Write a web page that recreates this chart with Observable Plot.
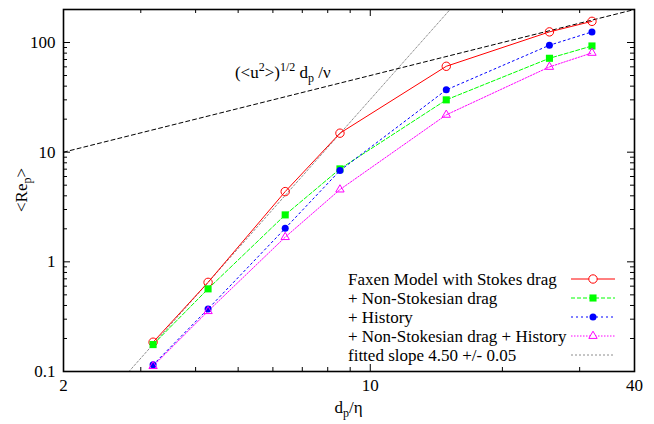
<!DOCTYPE html>
<html><head><meta charset="utf-8">
<script src="https://cdn.jsdelivr.net/npm/d3@7"></script>
<script src="https://cdn.jsdelivr.net/npm/@observablehq/plot@0.6"></script>
<style>body{margin:0;background:#fff} svg{display:block}</style>
</head><body><div id="chart"></div>
<script>
// ---- data ----
const dpEta = [3.2, 4.27, 6.4, 8.53, 14.9, 25.6, 32];
const faxenStokes = [0.185, 0.65, 4.37, 14.9, 60.7, 125, 156];
const nonStokesian = [0.176, 0.567, 2.68, 7.04, 30, 71.8, 93];
const history = [0.115, 0.372, 2.02, 6.8, 37, 94.4, 125];
const nonStokesianHistory = [0.112, 0.355, 1.68, 4.56, 21.9, 59.9, 80.4];
const seriesNames = ["Faxen Model with Stokes drag", "+ Non-Stokesian drag", "+ History", "+ Non-Stokesian drag + History"];
const fitName = "fitted slope 4.50 +/- 0.05";
const velLineX = [2, 40];
const velLineY = [10, 200];
const fitLineX = [2.82, 15.2];
const fitLineY = [0.1, 200];
const annotationX = [4.93];
const annotationY = [47];
const xTickLabels = [2, 10, 40];
const yTickLabels = [0.1, 1, 10, 100];
const xMinorTicks = [3, 4, 5, 6, 7, 8, 9, 20, 30];
const xMajorTicks = [10];
const yMinorTicks = [0.2, 0.3, 0.4, 0.5, 0.6, 0.7, 0.8, 0.9, 2, 3, 4, 5, 6, 7, 8, 9, 20, 30, 40, 50, 60, 70, 80, 90];
const yMajorTicks = [1, 10, 100];

// ---- styles ----
const FONT = "'Liberation Serif', 'Times New Roman', serif";
const FS = 17;
const seriesStyles = [
  {color: "#ff0000", dash: null, symbol: "circle", filled: false, r: 4.2},
  {color: "#00ff00", dash: "4,2", symbol: "square", filled: true, r: 4.0},
  {color: "#0000ff", dash: "2,3", symbol: "circle", filled: true, r: 3.5},
  {color: "#ff00ff", dash: "1.5,1.5", symbol: "triangle", filled: false, r: 3.1}
];
const fitStyle = {color: "#8c8c8c", dash: "2,2"};

const W = 654, H = 424, mL = 63, mR = 20, mT = 9, mB = 53;
const iw = W - mL - mR, ih = H - mT - mB;

const allSeries = [faxenStokes, nonStokesian, history, nonStokesianHistory];
const seriesRows = allSeries.map((s, k) => dpEta.map((x, j) => ({x, y: s[j], k})));
const velPts = velLineX.map((x, i) => ({x, y: velLineY[i]}));
const fitPts = fitLineX.map((x, i) => ({x, y: fitLineY[i]}));

const marks = [
  Plot.line(fitPts, {x: "x", y: "y", stroke: fitStyle.color, strokeWidth: 1, strokeDasharray: fitStyle.dash, clip: true}),
  Plot.line(velPts, {x: "x", y: "y", stroke: "black", strokeWidth: 1, strokeDasharray: "4,3", clip: true})
];
seriesRows.forEach((rows, k) => {
  const st = seriesStyles[k];
  marks.push(Plot.line(rows, {x: "x", y: "y", stroke: st.color, strokeWidth: 1, strokeDasharray: st.dash || undefined}));
});
seriesRows.forEach((rows, k) => {
  const st = seriesStyles[k];
  marks.push(Plot.dot(rows, {x: "x", y: "y", symbol: st.symbol, r: st.r,
    fill: st.filled ? st.color : "none", stroke: st.filled ? "none" : st.color, strokeWidth: 1}));
});
// inward ticks
marks.push(
  Plot.ruleX(xMinorTicks, {x: d => d, insetTop: ih - 4, stroke: "black", strokeWidth: 1}),
  Plot.ruleX(xMinorTicks, {x: d => d, insetBottom: ih - 4, stroke: "black", strokeWidth: 1}),
  Plot.ruleX(xMajorTicks, {x: d => d, insetTop: ih - 7, stroke: "black", strokeWidth: 1}),
  Plot.ruleX(xMajorTicks, {x: d => d, insetBottom: ih - 7, stroke: "black", strokeWidth: 1}),
  Plot.ruleY(yMinorTicks, {y: d => d, insetRight: iw - 4, stroke: "black", strokeWidth: 1}),
  Plot.ruleY(yMinorTicks, {y: d => d, insetLeft: iw - 4, stroke: "black", strokeWidth: 1}),
  Plot.ruleY(yMajorTicks, {y: d => d, insetRight: iw - 7, stroke: "black", strokeWidth: 1}),
  Plot.ruleY(yMajorTicks, {y: d => d, insetLeft: iw - 7, stroke: "black", strokeWidth: 1}),
  Plot.frame({stroke: "black", strokeWidth: 1.6}),
  Plot.axisX({ticks: xTickLabels, tickSize: 0, tickPadding: 7, tickFormat: d => String(d), label: null}),
  Plot.axisY({ticks: yTickLabels, tickSize: 0, tickPadding: 8, tickFormat: d => String(d), label: null})
);

const plot = Plot.plot({
  width: W, height: H,
  marginLeft: mL, marginRight: mR, marginTop: mT, marginBottom: mB,
  style: {fontFamily: FONT, fontSize: FS + "px", color: "black", background: "white"},
  x: {type: "log", domain: [2, 40]},
  y: {type: "log", domain: [0.1, 200]},
  marks
});
document.getElementById("chart").appendChild(plot);

// ---- texts with sub/superscripts, legend ----
const svg = d3.select(plot);
const xs = plot.scale("x"), ys = plot.scale("y");
const g = svg.append("g").attr("font-family", FONT).attr("font-size", FS).attr("fill", "black").attr("text-anchor", "start");

function rich(parent, parts) {
  let cur = 0;
  parts.forEach(([t, shift, small]) => {
    const ts = parent.append("tspan").text(t);
    const d = shift - cur;
    if (d !== 0) ts.attr("dy", d);
    if (small) ts.attr("font-size", 12);
    cur = shift;
  });
}
// annotation
const ann = g.append("text").attr("text-anchor", "start").attr("x", xs.apply(annotationX[0])).attr("y", ys.apply(annotationY[0]));
rich(ann, [["(<u", 0], ["2", -7, true], [">)", 0], ["1/2", -7, true], [" d", 0], ["p", 4, true], [" /ν", 0]]);
// x label
const xl = g.append("text").attr("x", mL + iw / 2).attr("y", H - 11).attr("text-anchor", "middle");
rich(xl, [["d", 0], ["p", 4, true], ["/η", 0]]);
// y label
const yl = g.append("text").attr("transform", `translate(27,${mT + ih / 2}) rotate(-90)`).attr("text-anchor", "middle");
rich(yl, [["<Re", 0], ["p", 4, true], [">", 0]]);

// legend
const right = W - mR, bottom = H - mB;
const entries = seriesNames.map((n, i) => ({name: n, st: seriesStyles[i]})).concat([{name: fitName, st: fitStyle}]);
entries.forEach((e, i) => {
  const cy = bottom - 16 - 19 * (entries.length - 1 - i);
  g.append("text").attr("text-anchor", "start").attr("x", right - 286).attr("y", cy).attr("dy", "0.35em").text(e.name);
  g.append("line").attr("x1", right - 63).attr("x2", right - 19).attr("y1", cy).attr("y2", cy)
    .attr("stroke", e.st.color).attr("stroke-width", 1).attr("stroke-dasharray", e.st.dash || null);
  if (e.st.symbol) {
    const sym = {circle: d3.symbolCircle, square: d3.symbolSquare, triangle: d3.symbolTriangle}[e.st.symbol];
    g.append("path").attr("d", d3.symbol(sym, Math.PI * e.st.r * e.st.r)())
      .attr("transform", `translate(${right - 41},${cy})`)
      .attr("fill", e.st.filled ? e.st.color : "white")
      .attr("stroke", e.st.filled ? "none" : e.st.color).attr("stroke-width", 1);
  }
});
</script></body></html>
